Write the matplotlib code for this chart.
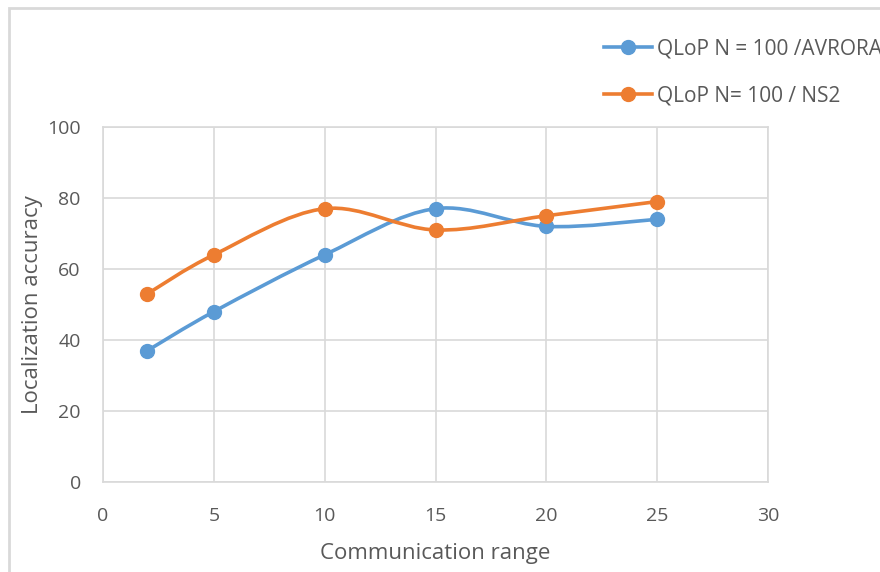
import numpy as np
import matplotlib.pyplot as plt
from matplotlib.path import Path
from matplotlib.patches import PathPatch, Rectangle
from matplotlib.lines import Line2D

comm_range = [2, 5, 10, 15, 20, 25]
acc_avrora = [37, 48, 64, 77, 72, 74]
acc_ns2 = [53, 64, 77, 71, 75, 79]
labels = ['QLoP N = 100 /AVRORA', 'QLoP N= 100 / NS2']
colors = ['#5B9BD5', '#ED7D31']

plt.rcParams['font.family'] = ['Open Sans', 'DejaVu Sans']
txt = '#595959'
grid = '#D9D9D9'


def smooth_path(x, y):
    # excel style smoothed line: cubic bezier through every point
    p = np.column_stack([x, y]).astype(float)
    p_ext = np.vstack([p[0], p, p[-1]])
    verts = [p[0]]
    codes = [Path.MOVETO]
    for i in range(len(p) - 1):
        p0, p1, p2, p3 = p_ext[i], p_ext[i + 1], p_ext[i + 2], p_ext[i + 3]
        verts += [p1 + (p2 - p0) / 6, p2 - (p3 - p1) / 6, p2]
        codes += [Path.CURVE4] * 3
    return Path(verts, codes)


fig = plt.figure(figsize=(8.8, 5.72), dpi=100)
# outer chart border (only left and top visible, rest is cropped)
fig.add_artist(Rectangle((9 / 880, -0.1), 2, 1.1 - 8 / 572, transform=fig.transFigure,
                         fill=False, edgecolor='#D9D9D9', lw=2))
ax = fig.add_axes([103 / 880, 1 - 482 / 572, 665 / 880, 355 / 572])

for ys, c in zip([acc_avrora, acc_ns2], colors):
    ax.add_patch(PathPatch(smooth_path(comm_range, ys), fill=False, edgecolor=c,
                           lw=2.6, capstyle='round', zorder=3))
    ax.plot(comm_range, ys, ls='none', marker='o', ms=10, color=c, zorder=4)

ax.set_xlim(0, 30)
ax.set_ylim(0, 100)
ax.set_xticks(range(0, 31, 5))
ax.set_yticks(range(0, 101, 20))
ax.grid(True, color=grid, lw=1.2)
ax.set_axisbelow(True)
for s in ax.spines.values():
    s.set_color(grid)
    s.set_linewidth(1.2)
ax.tick_params(length=0, labelsize=14, colors=txt)
ax.tick_params(axis='x', pad=18)
ax.tick_params(axis='y', pad=16)
ax.set_xlabel('Communication range', fontsize=16, color=txt, labelpad=13)
ax.set_ylabel('Localization accuracy', fontsize=16, color=txt, labelpad=3)

handles = [Line2D([], [], color=c, lw=2.6, marker='o', ms=10) for c in colors]
fig.legend(handles, labels, loc='upper left', bbox_to_anchor=(596 / 880, 1 - 30 / 572),
           frameon=False, fontsize=15, labelcolor=txt, handlelength=2.3,
           handletextpad=0.25, labelspacing=1.25, borderaxespad=0)

fig.savefig('out.png', dpi=100)
